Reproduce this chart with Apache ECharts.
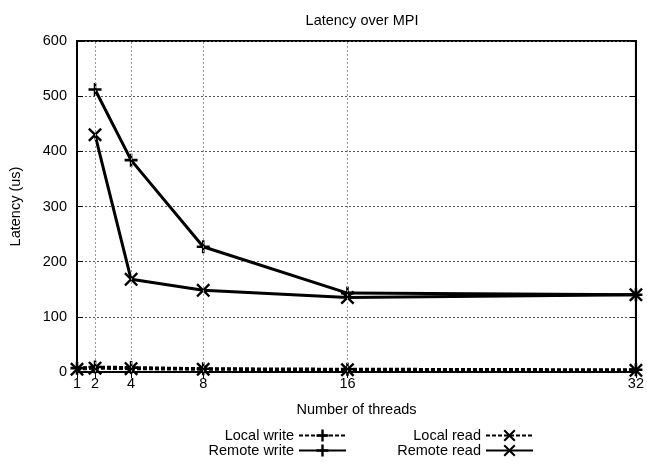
<!DOCTYPE html>
<html><head><meta charset="utf-8">
<script src="https://cdn.jsdelivr.net/npm/echarts@6/dist/echarts.min.js"></script>
<style>html,body{margin:0;padding:0;background:#fff}#c{width:647px;height:462px}</style>
</head><body><div id="c"></div>
<script>
const threadTicks = [1, 2, 4, 8, 16, 32];
const localThreads = [1, 2, 4, 8, 16, 32];
const remoteThreads = [2, 4, 8, 16, 32];
const localWrite = [7, 9, 8, 6, 5, 4];
const remoteWrite = [512, 384, 227, 143, 140];
const localRead = [5, 7, 6, 5, 4, 3];
const remoteRead = [430, 168, 148, 135, 140];
const gridX = [2, 4, 8, 16];

const PLUS = 'path://M4,0H6V4H10V6H6V10H4V6H0V4H4Z';
const CROSS = 'path://M1.2,0L5,3.8L8.8,0L10,1.2L6.2,5L10,8.8L8.8,10L5,6.2L1.2,10L0,8.8L3.8,5L0,1.2Z';
const FONT = 'Liberation Sans';
const FS = 14.5;

function pairs(xs, ys) { return xs.map((x, i) => [x, ys[i]]); }

function mkSeries(name, xs, ys, sym, dashed, size) {
  return {
    name, type: 'line', data: pairs(xs, ys),
    symbol: sym, symbolSize: size, showSymbol: true,
    lineStyle: { color: '#000', width: 3, type: dashed ? [4, 2] : 'solid' },
    itemStyle: { color: '#000' },
    emphasis: { disabled: true }, animation: false, z: 3
  };
}

const series = [
  mkSeries('Local write', localThreads, localWrite, PLUS, true, 13),
  mkSeries('Remote write', remoteThreads, remoteWrite, PLUS, false, 13),
  mkSeries('Local read', localThreads, localRead, CROSS, true, 14),
  mkSeries('Remote read', remoteThreads, remoteRead, CROSS, false, 14),
  {
    type: 'line', data: [], silent: true, animation: false,
    markLine: {
      silent: true, symbol: 'none', label: { show: false },
      lineStyle: { color: '#999', width: 1, type: [2, 2] },
      data: gridX.map(v => ({ xAxis: v }))
    }
  }
];

function legend(name, right, top) {
  return {
    data: [name], right, top, align: 'right', orient: 'horizontal',
    itemWidth: 47, itemHeight: 15, padding: 0, selectedMode: false,
    textStyle: { fontFamily: FONT, fontSize: FS, color: '#000' }
  };
}

const chart = echarts.init(document.getElementById('c'), null, { renderer: 'canvas' });
chart.setOption({
  backgroundColor: '#fff',
  animation: false,
  title: {
    text: 'Latency over MPI', left: 357, top: 8, textAlign: 'center',
    textStyle: { fontFamily: FONT, fontSize: FS, fontWeight: 'normal', color: '#000' }
  },
  legend: [
    legend('Local write', 300, 428),
    legend('Remote write', 300, 443),
    legend('Local read', 113, 428),
    legend('Remote read', 113, 443)
  ],
  grid: { left: 76, right: 10, top: 41, bottom: 90, show: true, borderColor: '#000', borderWidth: 2 },
  xAxis: [{
    type: 'value', min: 1, max: 32, position: 'bottom',
    name: 'Number of threads', nameLocation: 'middle', nameGap: 30,
    nameTextStyle: { fontFamily: FONT, fontSize: FS, color: '#000' },
    axisLine: { show: true, lineStyle: { color: '#000', width: 2 } },
    axisTick: { show: true, inside: true, length: 6, customValues: threadTicks, lineStyle: { color: '#000', width: 1 } },
    axisLabel: { customValues: threadTicks, fontFamily: FONT, fontSize: FS, color: '#000', margin: 4 },
    splitLine: { show: false }
  }, {
    type: 'value', min: 1, max: 32, position: 'top',
    axisLine: { show: true, lineStyle: { color: '#000', width: 2 } },
    axisTick: { show: true, inside: true, length: 6, customValues: threadTicks, lineStyle: { color: '#000', width: 1 } },
    axisLabel: { show: false }, splitLine: { show: false }
  }],
  yAxis: [{
    type: 'value', min: 0, max: 600, interval: 100, position: 'left',
    name: 'Latency (us)', nameLocation: 'middle', nameGap: 54, nameRotate: 90,
    nameTextStyle: { fontFamily: FONT, fontSize: FS, color: '#000' },
    axisLine: { show: true, lineStyle: { color: '#000', width: 2 } },
    axisTick: { show: true, inside: true, length: 6, lineStyle: { color: '#000', width: 1 } },
    axisLabel: { fontFamily: FONT, fontSize: FS, color: '#000', margin: 10 },
    splitLine: { show: true, lineStyle: { color: '#555', width: 1, type: [2, 2] } }
  }, {
    type: 'value', min: 0, max: 600, interval: 100, position: 'right',
    axisLine: { show: true, lineStyle: { color: '#000', width: 2 } },
    axisTick: { show: true, inside: true, length: 6, lineStyle: { color: '#000', width: 1 } },
    axisLabel: { show: false }, splitLine: { show: false }
  }],
  series
});
</script></body></html>
